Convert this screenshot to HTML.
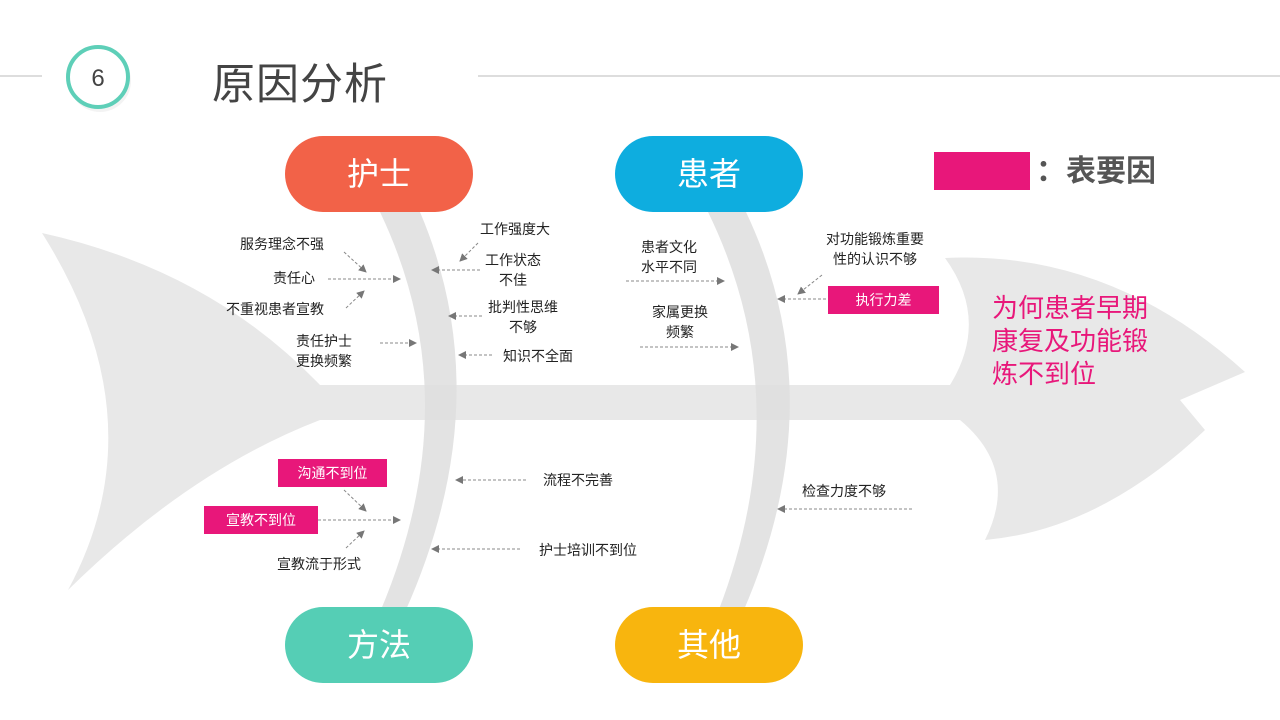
<!DOCTYPE html>
<html><head><meta charset="utf-8"><style>
body{margin:0;width:1280px;height:720px;background:#fff;overflow:hidden;font-family:"Liberation Sans","Noto Sans CJK SC",sans-serif;}
svg{position:absolute;left:0;top:0}
.t{position:absolute;font-size:14px;color:#222;text-align:center;line-height:20px;white-space:nowrap}
.pill{position:absolute;width:188px;height:76px;border-radius:38px;color:#fff;font-size:32px;line-height:76px;text-align:center}
.mag{position:absolute;background:#e8177a;color:#fff;font-size:14px;line-height:28px;text-align:center}
</style></head><body>
<svg width="1280" height="720">
<line x1="0" y1="76" x2="42" y2="76" stroke="#ddd" stroke-width="2"/>
<line x1="478" y1="76" x2="1280" y2="76" stroke="#ddd" stroke-width="2"/>
<circle cx="100" cy="81" r="31" fill="#eee" opacity="0.7"/>
<circle cx="98" cy="77" r="30" fill="#fff" stroke="#5ecfb8" stroke-width="4"/>
<text x="98" y="86" font-size="24" text-anchor="middle" fill="#444" font-family="Liberation Sans">6</text>
<g fill="#e8e8e8">
<path d="M42,233 Q210,270 320,385 L320,420 Q190,470 68,590 Q160,420 42,233 Z"/>
<rect x="300" y="385" width="660" height="35"/>
<path d="M945,258 Q1110,250 1245,372 L1180,400 L1205,430 Q1100,530 985,540 Q1020,470 960,420 L950,385 Q990,320 945,258 Z"/>
</g>
<g fill="#dedede" opacity="0.85">
<path d="M380,212 Q470,400 380,612 L405,612 Q500,400 420,212 Z"/>
<path d="M708,212 Q800,400 718,612 L743,612 Q835,400 746,212 Z"/>
</g>
<defs><marker id="a" markerWidth="8" markerHeight="8" refX="7" refY="4" orient="auto" markerUnits="userSpaceOnUse"><path d="M0,0 L8,4 L0,8 Z" fill="#777"/></marker></defs>
<g stroke="#888" stroke-width="1" stroke-dasharray="3,2" marker-end="url(#a)">
<line x1="344" y1="252" x2="366" y2="272"/>
<line x1="328" y1="279" x2="400" y2="279"/>
<line x1="346" y1="308" x2="364" y2="291"/>
<line x1="380" y1="343" x2="416" y2="343"/>
<line x1="478" y1="243" x2="460" y2="261"/>
<line x1="480" y1="270" x2="432" y2="270"/>
<line x1="482" y1="316" x2="449" y2="316"/>
<line x1="492" y1="355" x2="459" y2="355"/>
<line x1="626" y1="281" x2="724" y2="281"/>
<line x1="640" y1="347" x2="738" y2="347"/>
<line x1="822" y1="275" x2="798" y2="294"/>
<line x1="826" y1="299" x2="778" y2="299"/>
<line x1="344" y1="490" x2="366" y2="511"/>
<line x1="318" y1="520" x2="400" y2="520"/>
<line x1="346" y1="548" x2="364" y2="531"/>
<line x1="526" y1="480" x2="456" y2="480"/>
<line x1="520" y1="549" x2="432" y2="549"/>
<line x1="912" y1="509" x2="778" y2="509"/>
</g>
</svg>
<div style="position:absolute;left:212px;top:50px;font-size:43px;color:#444;letter-spacing:1px">原因分析</div>
<div class="pill" style="left:285px;top:136px;background:#f26248">护士</div>
<div class="pill" style="left:615px;top:136px;background:#0eaddf">患者</div>
<div class="pill" style="left:285px;top:607px;background:#55ceb5">方法</div>
<div class="pill" style="left:615px;top:607px;background:#f8b50e">其他</div>
<div style="position:absolute;left:934px;top:152px;width:96px;height:38px;background:#e8177a"></div>
<div style="position:absolute;left:1036px;top:153px;font-size:30px;line-height:38px;font-weight:bold;color:#555">：表要因</div>
<div style="position:absolute;left:992px;top:292px;font-size:26px;line-height:33px;color:#e8177a">为何患者早期<br>康复及功能锻<br>炼不到位</div>
<div class="t" style="left:240px;top:234px">服务理念不强</div>
<div class="t" style="left:273px;top:268px">责任心</div>
<div class="t" style="left:226px;top:299px">不重视患者宣教</div>
<div class="t" style="left:296px;top:331px">责任护士<br>更换频繁</div>
<div class="t" style="left:480px;top:219px">工作强度大</div>
<div class="t" style="left:485px;top:250px">工作状态<br>不佳</div>
<div class="t" style="left:488px;top:297px">批判性思维<br>不够</div>
<div class="t" style="left:503px;top:346px">知识不全面</div>
<div class="t" style="left:641px;top:237px">患者文化<br>水平不同</div>
<div class="t" style="left:652px;top:302px">家属更换<br>频繁</div>
<div class="t" style="left:826px;top:229px">对功能锻炼重要<br>性的认识不够</div>
<div class="mag" style="left:828px;top:286px;width:111px">执行力差</div>
<div class="mag" style="left:278px;top:459px;width:109px">沟通不到位</div>
<div class="mag" style="left:204px;top:506px;width:114px">宣教不到位</div>
<div class="t" style="left:277px;top:554px">宣教流于形式</div>
<div class="t" style="left:543px;top:470px">流程不完善</div>
<div class="t" style="left:539px;top:540px">护士培训不到位</div>
<div class="t" style="left:802px;top:481px">检查力度不够</div>
</body></html>
